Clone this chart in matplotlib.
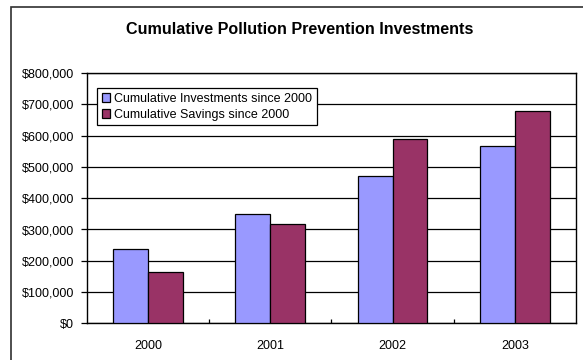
import matplotlib
matplotlib.use("Agg")
import matplotlib.pyplot as plt
from matplotlib.patches import Rectangle
from matplotlib.ticker import FuncFormatter, FixedLocator
import numpy as np

plt.rcParams['font.family'] = ['Liberation Sans', 'DejaVu Sans']

years = ["2000", "2001", "2002", "2003"]
investments = [237000, 349000, 471000, 566000]
savings = [163000, 319000, 590000, 679000]
series_names = ["Cumulative Investments since 2000", "Cumulative Savings since 2000"]
title = "Cumulative Pollution Prevention Investments"

W, H = 583, 360
fig = plt.figure(figsize=(W / 100, H / 100), dpi=100)

# outer chart frame (runs off the right and bottom edges)
fig.patches.append(Rectangle((11.3 / W, -0.1), 1.2, 1 - 6.7 / H + 0.1,
                             transform=fig.transFigure, fill=False,
                             edgecolor="#303030", linewidth=1.2, clip_on=False))

ax = fig.add_axes([86.7 / W, 1 - 323.4 / H, (576 - 86.7) / W, (323.4 - 73) / H])

x = np.arange(len(years))
bw = 1 / 3.5
ax.bar(x - bw / 2, investments, width=bw, color="#9999FF", edgecolor="black",
       linewidth=0.9, label=series_names[0], zorder=3)
ax.bar(x + bw / 2, savings, width=bw, color="#993366", edgecolor="black",
       linewidth=0.9, label=series_names[1], zorder=3)

ax.set_xlim(-0.5, len(years) - 0.5)
ax.set_ylim(0, 800000)
ax.set_yticks(np.arange(0, 800001, 100000))
ax.yaxis.set_major_formatter(FuncFormatter(lambda v, p: f"${int(v):,}"))
ax.grid(axis="y", color="black", linewidth=0.9, zorder=0)
ax.set_axisbelow(True)

ax.set_xticks(x)
ax.set_xticklabels(years)
ax.tick_params(axis="x", which="major", length=0, pad=12, labelsize=9)
ax.xaxis.set_minor_locator(FixedLocator([0.5, 1.5, 2.5]))
ax.tick_params(axis="x", which="minor", direction="in", length=3, width=0.9)
ax.tick_params(axis="y", length=4, width=0.9, pad=5, labelsize=9)

for s in ax.spines.values():
    s.set_color("black")
    s.set_linewidth(1.0)

fig.text(300 / W, 1 - 29 / H, title, ha="center", va="center",
         fontsize=11.6, fontweight="bold")

leg = ax.legend(loc="upper left", bbox_to_anchor=(97.3 / W, 1 - 88.3 / H),
                bbox_transform=fig.transFigure, borderaxespad=0,
                fancybox=False, edgecolor="black", framealpha=1,
                fontsize=9, handlelength=0.7, handleheight=0.7,
                handletextpad=0.3, labelspacing=0.35, borderpad=0.35)
leg.get_frame().set_linewidth(0.9)

fig.savefig("out.png", dpi=100)
